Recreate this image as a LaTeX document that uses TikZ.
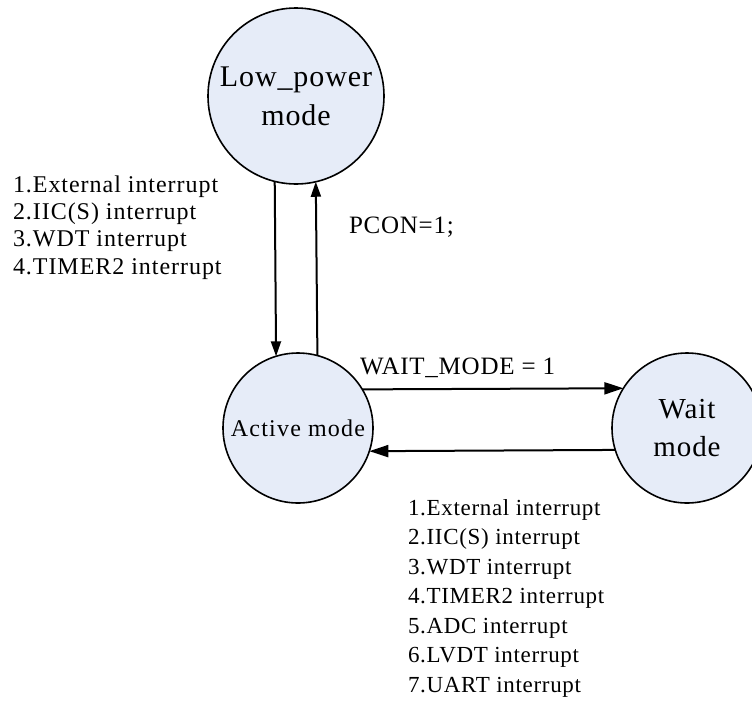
\documentclass[tikz,border=0pt]{standalone}
\usepackage{fontspec}
\setmainfont{Liberation Serif}
\newfontfamily\lsbig[LetterSpace=3]{Liberation Serif}
\newfontfamily\lsmid[LetterSpace=5]{Liberation Serif}
\newfontfamily\lslist[LetterSpace=4]{Liberation Serif}
\newfontfamily\lslow[LetterSpace=3]{Liberation Serif}
\newfontfamily\lscond[LetterSpace=3]{Liberation Serif}
\usetikzlibrary{arrows.meta}
\definecolor{statefill}{RGB}{230,236,248}
\begin{document}
\begin{tikzpicture}[x=1pt,y=-1pt,
  state/.style={circle,draw=black,line width=1.6pt,fill=statefill,inner sep=0pt,outer sep=0pt,align=center},
  vtrans/.style={line width=2pt,-{Triangle[length=15pt,width=10pt]}},
  htrans/.style={line width=2pt,-{Triangle[length=19pt,width=12pt]}},
  lbl/.style={inner sep=0pt,outer sep=0pt,align=left}]
\useasboundingbox (0,0) rectangle (752,710);
\clip (0,0) rectangle (752,710);
% states
\node[state,minimum size=176pt,font={\lsbig\fontsize{30}{39}\selectfont}] (lp) at (296,96) {Low\_power\\mode};
\node[state,minimum size=150pt,font={\lsmid\fontsize{24}{28}\selectfont}] (act) at (298,428) {Active mode};
\node[state,minimum size=150pt,font={\lsbig\fontsize{29}{38}\selectfont}] (wait) at (687,428) {Wait\\mode};
% transitions
\draw[vtrans] (lp.256.2) -- (act.107.9);
\draw[vtrans] (act.75.3) -- (lp.283.8);
\draw[htrans] (act.31.3) -- (wait.148.7);
\draw[htrans] (wait.197.9) -- (act.342.1);
% labels
\node[lbl,anchor=north west,font={\lslist\fontsize{24}{27.3}\selectfont}] (wake1) at (13,175.6)
  {1.External interrupt\\2.IIC(S) interrupt\\3.WDT interrupt\\4.TIMER2 interrupt};
\node[lbl,anchor=base west,font={\lscond\fontsize{25}{30}\selectfont}] (pcon) at (349,233) {PCON=1;};
\node[lbl,anchor=base west,font={\lscond\fontsize{25}{30}\selectfont}] (waitc) at (360,374) {WAIT\_MODE = 1};
\node[lbl,anchor=north west,font={\lslow\fontsize{23}{29.5}\selectfont}] (wake2) at (408,499.3)
  {1.External interrupt\\2.IIC(S) interrupt\\3.WDT interrupt\\4.TIMER2 interrupt\\5.ADC interrupt\\6.LVDT interrupt\\7.UART interrupt};
\end{tikzpicture}
\end{document}
